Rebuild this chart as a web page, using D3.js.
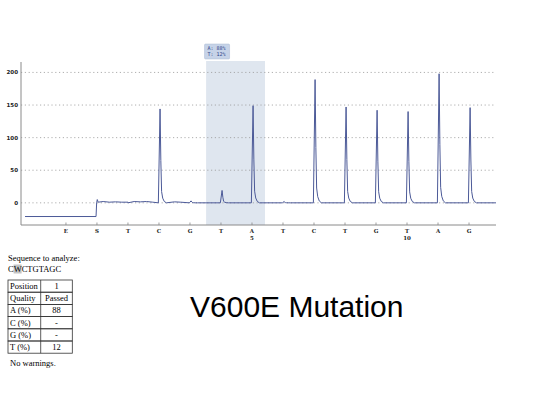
<!DOCTYPE html>
<html>
<head>
<meta charset="utf-8">
<script src="https://cdn.jsdelivr.net/npm/d3@7"></script>
<style>
  body { margin: 0; background: #fff; }
  svg { display: block; }
</style>
</head>
<body>
<div id="container"></div>
<script>
// Pyrogram data
const dispensations = ['E', 'S', 'T', 'C', 'G', 'T', 'A', 'T', 'C', 'T', 'G', 'T', 'A', 'G'];
const peakHeights = [0, 0, 0, 144, 3, 19, 149, 2, 189, 147, 142, 140, 198, 146];
const gridValues = [0, 50, 100, 150, 200];
const numberedAt = [6, 11];
const numberLabels = ['5', '10'];
// flat start before substrate, then small baseline wiggles
const preRun = [[-1.32, -21], [0.97, -21], [0.99, 0], [1.01, 5], [1.04, 1]];
const baselineNoise = [[1.2, 2], [1.4, 1], [1.6, 1.5], [1.8, 1], [2.0, 1], [2.2, 2], [2.4, 1.5], [2.6, 2], [2.8, 1], [3.5, 1.5], [3.7, 1]];
const variantText = ['A:  88%', 'T:  12%'];
const tableRows = [['Position', '1'], ['Quality', 'Passed'], ['A (%)', '88'], ['C (%)', '-'], ['G (%)', '-'], ['T (%)', '12']];

const width = 539, height = 393;

const svg = d3.select('#container').append('svg')
    .attr('width', width)
    .attr('height', height);

const x = d3.scaleLinear().domain([-1.45, 13.87]).range([21, 496]);
const y = d3.scaleLinear().domain([-34, 216]).range([225, 62]);

// highlighted variable position
svg.append('rect')
    .attr('x', x(4.52)).attr('y', 61)
    .attr('width', x(6.42) - x(4.52)).attr('height', y(-34) - 61)
    .attr('fill', '#dfe6ef');

svg.append('rect')
    .attr('x', x(4.47)).attr('y', 44)
    .attr('width', 25).attr('height', 15)
    .attr('rx', 1)
    .attr('fill', '#c6d3e8')
    .attr('stroke', '#a9b9d3')
    .attr('stroke-width', 0.5);

svg.selectAll('.variant')
    .data(variantText)
    .enter().append('text')
    .attr('class', 'variant')
    .attr('x', x(4.47) + 3)
    .attr('y', (d, i) => 50 + i * 6)
    .attr('font-family', 'DejaVu Sans Mono, monospace')
    .attr('font-size', 5)
    .attr('fill', '#2b3b86')
    .text(d => d);

// grid lines
svg.selectAll('.grid')
    .data(gridValues)
    .enter().append('line')
    .attr('x1', x(-1.45)).attr('x2', x(13.87))
    .attr('y1', d => y(d)).attr('y2', d => y(d))
    .attr('stroke', '#9a9a9a')
    .attr('stroke-width', 0.8)
    .attr('stroke-dasharray', '1.2,2.6');

svg.selectAll('.ylab')
    .data(gridValues)
    .enter().append('text')
    .attr('x', 18)
    .attr('y', d => y(d) + 2)
    .attr('text-anchor', 'end')
    .attr('font-family', 'DejaVu Sans, sans-serif')
    .attr('font-weight', 'bold')
    .attr('font-size', 5.5)
    .attr('fill', '#222')
    .text(d => d);

// axes
svg.append('line')
    .attr('x1', x(-1.45)).attr('x2', x(-1.45))
    .attr('y1', y(216)).attr('y2', y(-34))
    .attr('stroke', '#8a8a8a');
svg.append('line')
    .attr('x1', x(-1.45)).attr('x2', x(13.87))
    .attr('y1', y(-34)).attr('y2', y(-34))
    .attr('stroke', '#8a8a8a');

svg.selectAll('.xtick')
    .data(dispensations)
    .enter().append('line')
    .attr('x1', (d, i) => x(i)).attr('x2', (d, i) => x(i))
    .attr('y1', y(-34) - 2.5).attr('y2', y(-34))
    .attr('stroke', '#888')
    .attr('stroke-width', 0.8);

svg.selectAll('.xlab')
    .data(dispensations)
    .enter().append('text')
    .attr('x', (d, i) => x(i))
    .attr('y', 233)
    .attr('text-anchor', 'middle')
    .attr('font-family', 'DejaVu Serif, serif')
    .attr('font-weight', 'bold')
    .attr('font-size', 5.5)
    .attr('fill', '#222')
    .text(d => d);

svg.selectAll('.xnum')
    .data(numberLabels)
    .enter().append('text')
    .attr('x', (d, i) => x(numberedAt[i]))
    .attr('y', 240)
    .attr('text-anchor', 'middle')
    .attr('font-family', 'DejaVu Serif, serif')
    .attr('font-weight', 'bold')
    .attr('font-size', 5.5)
    .attr('fill', '#222')
    .text(d => d);

// build trace: each peak is a sharp rise with a short decaying tail
const shapeDx = [-0.02, 0.035, 0.06, 0.085, 0.12, 0.17, 0.24];
const shapeFrac = [0, 1, 0.45, 0.12, 0.05, 0.015, 0];
let trace = preRun.concat(baselineNoise);
peakHeights.forEach((h, i) => {
    if (i < 2) return;
    if (h <= 0) { trace.push([i, 0]); return; }
    shapeDx.forEach((dx, k) => trace.push([i + dx, h * shapeFrac[k]]));
});
trace.push([13.87, 0]);
trace.sort((a, b) => a[0] - b[0]);

const line = d3.line()
    .x(d => x(d[0]))
    .y(d => y(d[1]));

svg.append('path')
    .datum(trace)
    .attr('d', line)
    .attr('fill', 'none')
    .attr('stroke', '#4c5a98')
    .attr('stroke-width', 1)
    .attr('stroke-linejoin', 'round');

// sequence info and results table
const serif = 'Liberation Serif, Times New Roman, serif';
svg.append('text')
    .attr('x', 8).attr('y', 261)
    .attr('font-family', serif).attr('font-size', 8.5)
    .text('Sequence to analyze:');

svg.append('rect')
    .attr('x', 13.6).attr('y', 264.5)
    .attr('width', 8).attr('height', 9)
    .attr('fill', '#c4c4c4');
const seq = svg.append('text')
    .attr('x', 8).attr('y', 271.5)
    .attr('font-family', serif).attr('font-size', 8.5);
seq.append('tspan').text('C');
seq.append('tspan').text('W');
seq.append('tspan').text('CTGTAGC');

const tTop = 280, rowH = 12.2, c0 = 8, c1 = 40.7, c2 = 72.3;
const table = svg.append('g');
table.selectAll('.row')
    .data(tableRows)
    .enter().append('rect')
    .attr('x', c0).attr('y', (d, i) => tTop + i * rowH)
    .attr('width', c2 - c0).attr('height', rowH)
    .attr('fill', 'none').attr('stroke', '#333').attr('stroke-width', 0.8);
table.append('line')
    .attr('x1', c1).attr('x2', c1)
    .attr('y1', tTop).attr('y2', tTop + rowH * tableRows.length)
    .attr('stroke', '#333').attr('stroke-width', 0.8);
table.selectAll('.k')
    .data(tableRows)
    .enter().append('text')
    .attr('x', c0 + 2).attr('y', (d, i) => tTop + i * rowH + 9)
    .attr('font-family', serif).attr('font-size', 8.5)
    .text(d => d[0]);
table.selectAll('.v')
    .data(tableRows)
    .enter().append('text')
    .attr('x', (c1 + c2) / 2).attr('y', (d, i) => tTop + i * rowH + 9)
    .attr('text-anchor', 'middle')
    .attr('font-family', serif).attr('font-size', 8.5)
    .text(d => d[1]);

svg.append('text')
    .attr('x', 10).attr('y', 366)
    .attr('font-family', serif).attr('font-size', 8.5)
    .text('No warnings.');

// title
svg.append('text')
    .attr('x', 190).attr('y', 317)
    .attr('font-family', 'Liberation Sans, Arial, sans-serif')
    .attr('font-size', 30)
    .attr('fill', '#000')
    .text('V600E Mutation');
</script>
</body>
</html>
